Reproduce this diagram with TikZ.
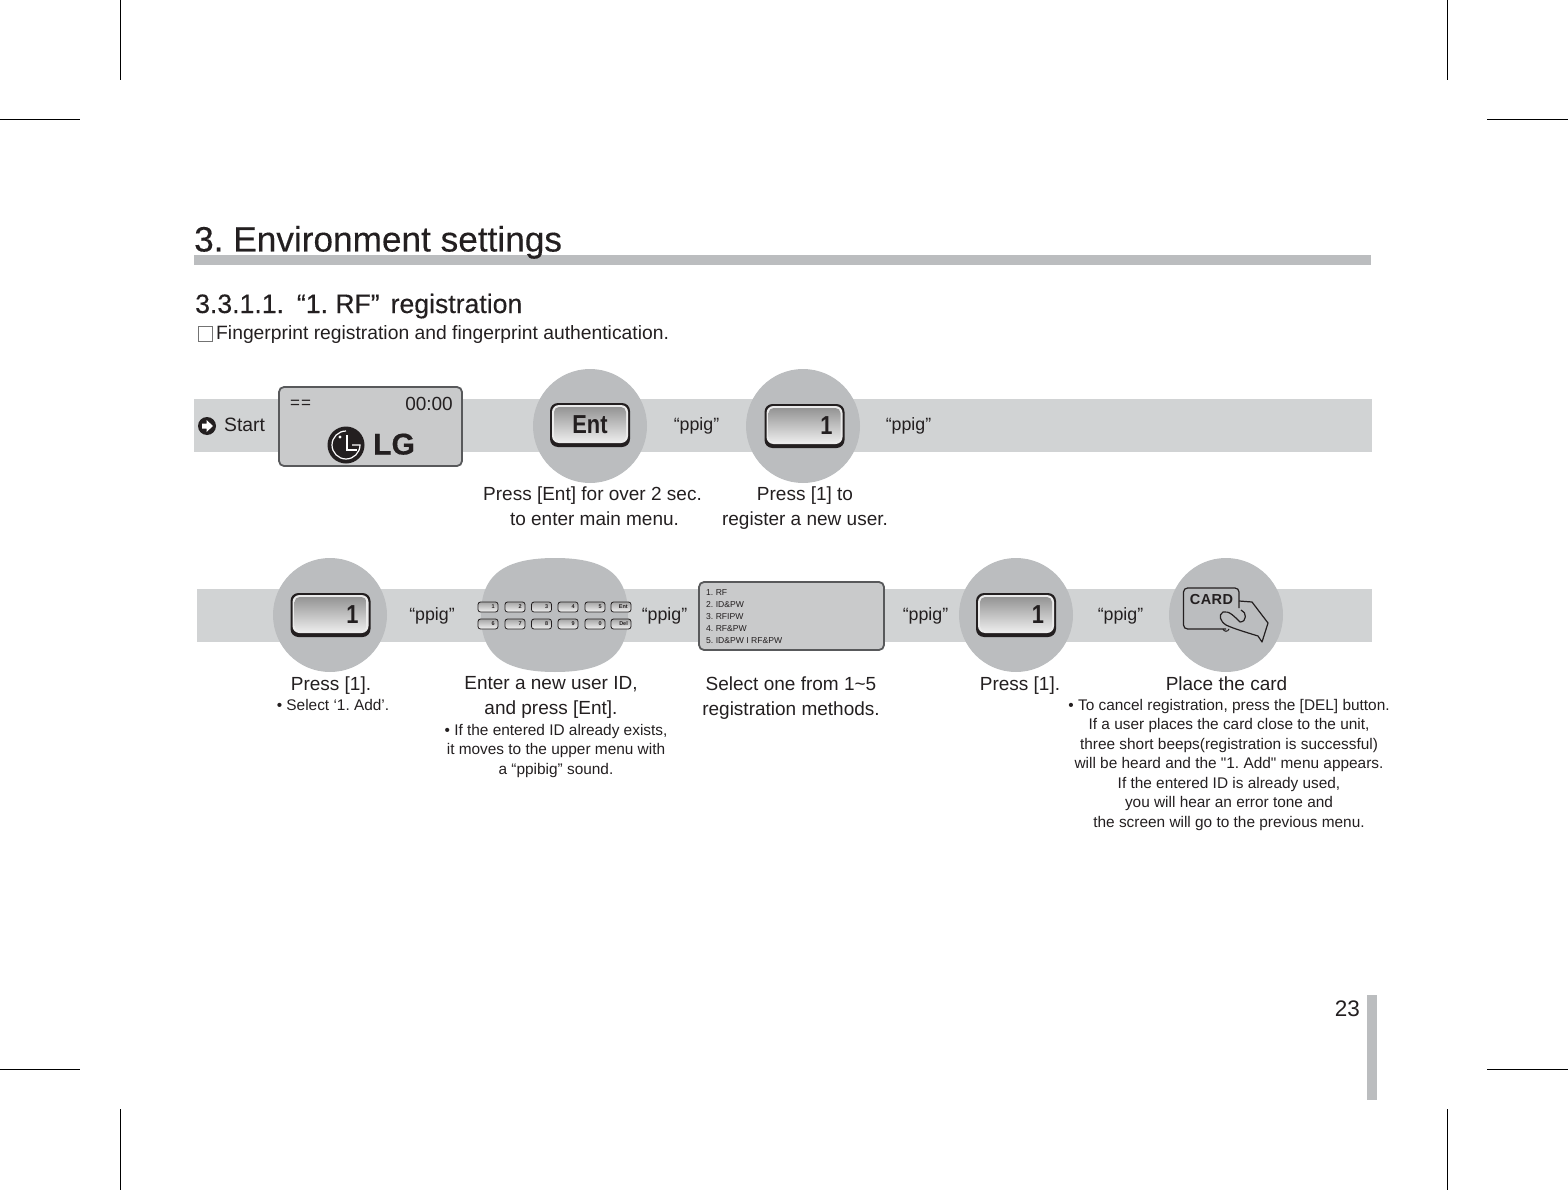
\documentclass[tikz,border=0pt]{standalone}
\usepackage{fontspec}
\setmainfont{Liberation Sans}[Ligatures=TeXOff]
\frenchspacing
\definecolor{barc}{HTML}{D1D3D4}
\definecolor{circc}{HTML}{BBBDBF}
\definecolor{lcdc}{HTML}{C9CACB}
\definecolor{edgec}{HTML}{58595B}
\definecolor{inkc}{HTML}{231F20}
\newcommand{\fsz}[1]{\fontsize{#1}{#1}\selectfont}
\tikzset{
  x=1pt,y=-1pt,
  barfill/.style={fill=barc,draw=none},
  disc/.style={circle,fill=circc,draw=none,minimum size=114,inner sep=0},
  txt/.style={text=inkc,inner sep=0,align=center,anchor=north},
  captxt/.style={txt,font=\fontsize{19}{25}\selectfont},
  smalltext/.style={txt,font=\fontsize{15.4}{19.5}\selectfont},
  ppig/.style={text=inkc,inner sep=0,font=\fsz{17.8}},
  crop/.style={black,line width=0.8},
  screen/.style={fill=lcdc,draw=edgec,line width=1.8,rounded corners=5},
  keyx/.initial=0,
  bigkey/.pic={
    \draw[fill=inkc,draw=none,rounded corners=8] (-40,-22) rectangle (40,22);
    \draw[fill=black!8,draw=none,rounded corners=7] (-38,-20) rectangle (38,18);
    \shade[top color=black!42,bottom color=black!8,rounded corners=5] (-36,-18) rectangle (36,16);
    \node[inner sep=0,text=inkc,font=\bfseries\fsz{26}\addfontfeature{FakeStretch=0.84}] (label) at (\pgfkeysvalueof{/tikz/keyx},0) {\tikzpictext};
  },
  smallkey/.style={draw=inkc,line width=0.8,top color=black!35,bottom color=black!5,rounded corners=2.5,minimum width=20,minimum height=10,inner sep=0},
  smalltxt/.style={inner sep=0,text=inkc,font=\bfseries\fsz{5.5}},
}
\begin{document}
\begin{tikzpicture}
\useasboundingbox (0,0) rectangle (1568,1190);
% crop marks
\foreach \xa in {120,1447}{
  \draw[crop] (\xa,0) -- (\xa,80);
  \draw[crop] (\xa,1109) -- (\xa,1190);
}
\foreach \ya in {119,1069}{
  \draw[crop] (0,\ya) -- (80,\ya);
  \draw[crop] (1487,\ya) -- (1568,\ya);
}
% header
\fill[circc] (194,255) rectangle (1371,265);
\node[text=inkc,inner sep=0,anchor=base west,font=\fsz{35.2}\addfontfeature{FakeBold=0.25}] (title) at (194,251.5) {3. Environment settings};
\node[text=inkc,inner sep=0,anchor=base west,font=\fsz{26.6}\addfontfeature{FakeBold=0.25}] (sub) at (195,313) {3.3.1.1.\hspace{13pt}“1. RF”\hspace{11pt}registration};
\draw[black!55,line width=0.7] (198.5,326.5) rectangle (212,341);
\node[text=inkc,inner sep=0,anchor=base west,font=\fsz{19.3}] (desc) at (216,339) {Fingerprint registration and fingerprint authentication.};
% bars
\fill[barfill] (194,399) rectangle (1372,452);
\fill[barfill] (197,589) rectangle (1372,642);
% start
\node[circle,fill=inkc,minimum size=18,inner sep=0] (startdot) at (207,426) {};
\fill[white] (202,423.5) -- (206.5,423.5) -- (206.5,420) -- (213,426) -- (206.5,432) -- (206.5,428.5) -- (202,428.5) -- cycle;
\node[text=inkc,inner sep=0,anchor=base west,font=\fsz{19.3}] (start) at (224,431.5) {Start};
% LCD
\draw[screen] (279,387) rectangle (462,466);
\node[text=inkc,inner sep=0,anchor=base west,font=\fsz{17}] (eq) at (290,408) {=\hspace{1pt}=};
\node[text=inkc,inner sep=0,anchor=base east,font=\fsz{19}] (clock) at (453,410) {00:00};
\node[circle,fill=inkc,minimum size=37,inner sep=0] (lgdot) at (346,445) {};
\draw[white,line width=1.2] (346,431) arc (-90:-360:14) -- (352,445);
\draw[white,line width=1.5] (347,435) -- (347,450) -- (357,450);
\fill[white] (340,437) circle (1.7);
\node[text=inkc,inner sep=0,anchor=base west,font=\bfseries\fsz{30}\addfontfeature{FakeBold=0.5}] (lg) at (373,454.5) {LG};
% row 1
\node[disc] (c1) at (590,426) {};
\pic[keyx=0,pic text={Ent}] (k1) at (590,425) {bigkey};
\node[ppig] (p1) at (696.5,425.5) {“ppig”};
\node[disc] (c2) at (803,426) {};
\pic[keyx=22,pic text={1}] (k2) at (804.5,426) {bigkey};
\node[ppig] (p2) at (908.5,425.5) {“ppig”};
\node[captxt] (t1) at (592.5,486.5) {Press [Ent] for over 2 sec.\\\hspace*{4pt}to enter main menu.};
\node[captxt] (t2) at (805,486.5) {Press [1] to\\register a new user.};
% row 2
\node[disc] (c3) at (330,615) {};
\pic[keyx=22,pic text={1}] (k3) at (330.5,615) {bigkey};
\node[ppig] (p3) at (432,615.5) {“ppig”};
\fill[circc] (555,558) .. controls (610,558) and (628,578) .. (628,615)
  .. controls (628,652) and (610,672) .. (555,672)
  .. controls (500,672) and (481,652) .. (481,615)
  .. controls (481,578) and (500,558) .. (555,558) -- cycle;
\foreach \xk/\la/\lb in {488/1/6,515/2/7,541.5/3/8,568/4/9,595/5/0,621/Ent/Del}{
  \node[smallkey] (ka\la) at (\xk,607) {};
  \node[smallkey] (kb\lb) at (\xk,624) {};
  \node[smalltxt,anchor=east] (tka\la) at (\xk+7,607) {\la};
  \node[smalltxt,anchor=east] (tkb\lb) at (\xk+7,624) {\lb};
}
\node[ppig] (p4) at (664.5,615.5) {“ppig”};
\draw[screen] (699,582) rectangle (884,650);
\node[text=inkc,inner sep=0,anchor=north west,align=left,font=\fontsize{8.6}{12}\selectfont] (menu) at (706,589) {1. RF\\2. ID\&PW\\3. RFIPW\\4. RF\&PW\\5. ID\&PW I RF\&PW};
\node[ppig] (p5) at (925.5,615.5) {“ppig”};
\node[disc] (c4) at (1016,615) {};
\pic[keyx=22,pic text={1}] (k4) at (1016,615) {bigkey};
\node[ppig] (p6) at (1120.5,615.5) {“ppig”};
\node[disc] (c5) at (1226,615) {};
% card
\draw[inkc,line width=1.2,rounded corners=4] (1239,608) -- (1239,588) -- (1183.5,588) -- (1183.5,629) -- (1226,629);
\node[inner sep=0,text=inkc,font=\bfseries\fsz{14.5}\addfontfeature{LetterSpace=3}] (cardtxt) at (1211.5,600) {CARD};
\draw[inkc,line width=1.2,line join=round] (1239,601) -- (1252,602)
  -- (1268,623) -- (1262,642) -- (1258,636)
  .. controls (1245,632) and (1232,628) .. (1226,625)
  .. controls (1220,621) and (1218,615) .. (1223,612)
  .. controls (1229,610) and (1236,618) .. (1240,622)
  .. controls (1247,622) and (1247,612) .. (1241,610);
\draw[inkc,line width=1] (1223,629) .. controls (1224,632) and (1228,632) .. (1229,629);
% captions row 2
\node[captxt] (t3) at (331,676.5) {Press [1].};
\node[smalltext] (t3b) at (333,699) {• Select ‘1. Add’.};
\node[captxt] (t4) at (551,676.5) {Enter a new user ID,\\and press [Ent].};
\node[smalltext] (t4b) at (556,724) {• If the entered ID already exists,\\ it moves to the upper menu with\\a “ppibig” sound.};
\node[captxt] (t5) at (791,676.5) {Select one from 1\textasciitilde 5\\registration methods.};
\node[captxt] (t6) at (1020,676.5) {Press [1].};
\node[captxt] (t7) at (1226.5,676.5) {Place the card};
\node[smalltext] (t7b) at (1229,699) {• To cancel registration, press the [DEL] button.\\If a user places the card close to the unit,\\three short beeps(registration is successful)\\will be heard and the "1. Add" menu appears.\\If the entered ID is already used,\\you will hear an error tone and\\the screen will go to the previous menu.};
% page tab
\fill[circc] (1367,995) rectangle (1377,1100);
\node[text=inkc,inner sep=0,anchor=base east,font=\fsz{22.5}] (page) at (1360,1016.5) {23};
\end{tikzpicture}
\end{document}
